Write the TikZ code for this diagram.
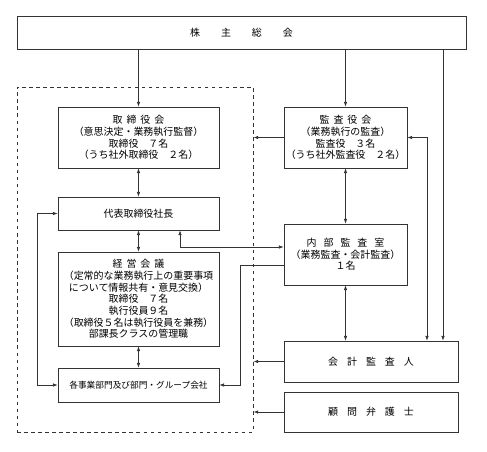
\documentclass[tikz,border=0pt]{standalone}
\usepackage{fontspec}
\setmainfont{Noto Sans CJK JP}
\usepackage{tikz}
\usetikzlibrary{positioning, arrows.meta, calc}

\newcommand{\gapa}{\hspace{.4em}}
\newcommand{\gapb}{\hspace{.7em}}
\newcommand{\gapc}{\hspace{.9em}}
\newcommand{\gapd}{\hspace{2.1em}}

\begin{document}
\begin{tikzpicture}[x=0.03cm, y=-0.03cm,
        box/.style={draw=black!80, line width=0.6pt, inner sep=0pt, align=center,
            font=\fontsize{8.5}{10}\selectfont},
        link/.style={draw=black!80, line width=0.6pt},
        >={Latex[length=4pt,width=3pt]}]
        \useasboundingbox (0,0) rectangle (487,451);

        % Draw company frame
        \node[draw=black!80, dashed, line width=0.8pt, minimum width=7.08cm, minimum height=10.35cm] (exec) at (135,259.5) {};

        % Draw boxes
        \node[box, minimum width=13.47cm, minimum height=0.99cm] (soukai) at (241.5,32.5) {株\gapd 主\gapd 総\gapd 会};
        \node[box, minimum width=4.83cm, minimum height=1.83cm] (board) at (138.5,137.5) {取\gapa 締\gapa 役\gapa 会\\（意思決定・業務執行監督）\\取締役　７名\\（うち社外取締役　２名）};
        \node[box, minimum width=3.69cm, minimum height=1.83cm] (audit) at (345.5,137.5) {監\gapa 査\gapa 役\gapa 会\\（業務執行の監査）\\監査役　３名\\（うち社外監査役　２名）};
        \node[box, minimum width=4.83cm, minimum height=0.99cm] (ceo) at (138.5,213.5) {代表取締役社長};
        \node[box, minimum width=4.83cm, minimum height=2.82cm] (keiei) at (138.5,299) {経\gapa 営\gapa 会\gapa 議\\（定常的な業務執行上の重要事項\\について情報共有・意見交換）\\取締役　７名\\執行役員９名\\（取締役５名は執行役員を兼務）\\部課長クラスの管理職};
        \node[box, minimum width=4.83cm, minimum height=1.02cm, font=\fontsize{7.4}{9}\selectfont] (dept) at (138.5,385) {各事業部門及び部門・グループ会社};
        \node[box, minimum width=3.69cm, minimum height=1.83cm] (internal) at (345.5,254.5) {内\gapb 部\gapb 監\gapb 査\gapb 室\\（業務監査・会計監査）\\１名};
        \node[box, minimum width=5.22cm, minimum height=1.23cm] (auditor) at (371,361.5) {会\gapc 計\gapc 監\gapc 査\gapc 人};
        \node[box, minimum width=5.22cm, minimum height=1.2cm] (lawyer) at (371,412) {顧\gapc 問\gapc 弁\gapc 護\gapc 士};

        % Helper coordinates for the routed lines
        \coordinate (rx) at (443,0);
        \coordinate (kx) at (427,0);
        \coordinate (lx) at (37,0);
        \coordinate (dx) at (180,247);
        \coordinate (nx) at (240,265);

        % Draw connectors
        \draw[link, ->] (soukai.south -| board.north) -- (board.north);
        \draw[link, ->] (soukai.south -| audit.north) -- (audit.north);
        \draw[link, ->] (soukai.south -| rx) -- (auditor.north -| rx);
        \draw[link, <->] (audit.east) -| (auditor.north -| kx);
        \draw[link, ->] (audit.west) -- (audit.west -| exec.east);
        \draw[link, <->] (board.south) -- (ceo.north);
        \draw[link, <->] (ceo.south) -- (keiei.north);
        \draw[link, <->] (keiei.south) -- (dept.north);
        \draw[link, <->] (audit.south) -- (internal.north);
        \draw[link, <->] (ceo.west) -- (ceo.west -| lx) -- (dept.west -| lx) -- (dept.west);
        \draw[link, <->] (ceo.south -| dx) |- (internal.west |- dx);
        \draw[link, ->] (internal.west |- nx) -- (nx) |- (dept.east);
        \draw[link, <->] (internal.south) -- (auditor.north -| internal.south);
        \draw[link, ->] (auditor.west) -- (auditor.west -| exec.east);
        \draw[link, ->] (lawyer.west) -- (lawyer.west -| exec.east);
    \end{tikzpicture}
\end{document}
